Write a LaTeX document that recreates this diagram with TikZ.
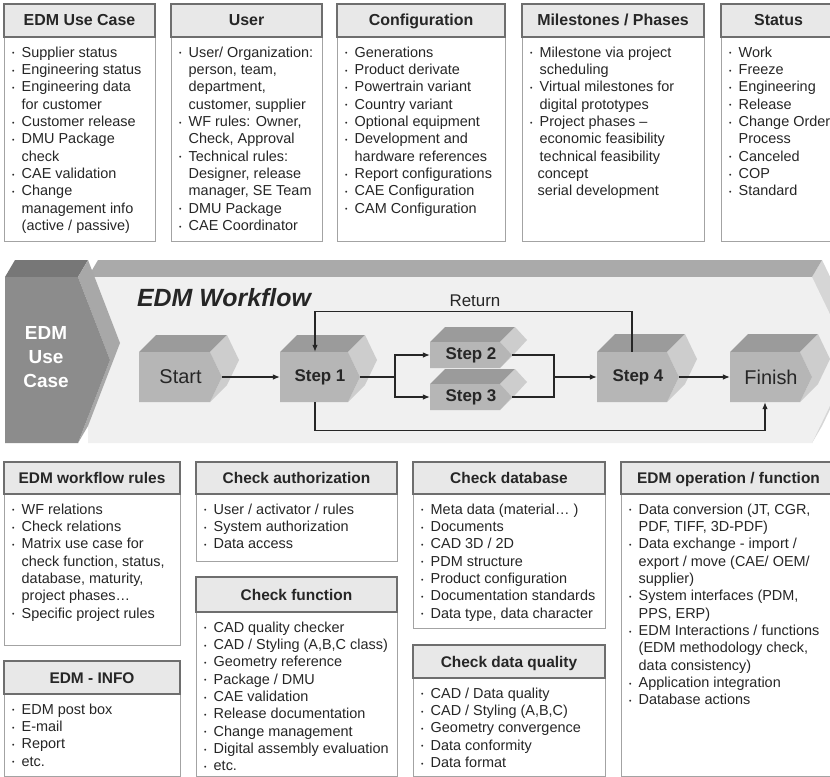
\documentclass[tikz,border=0pt]{standalone}
\usepackage{fontspec}
\setmainfont{Liberation Sans}
\usetikzlibrary{arrows.meta,calc}

\definecolor{hdrfill}{HTML}{E8E8E8}
\definecolor{hdrline}{HTML}{6E6E6E}
\definecolor{bodyline}{HTML}{A3A3A3}
\definecolor{txt}{HTML}{262626}
\definecolor{blkfront}{HTML}{B6B6B6}
\definecolor{blktop}{HTML}{9B9B9B}
\definecolor{blkside}{HTML}{CDCDCD}
\definecolor{bandfront}{HTML}{F0F0F0}
\definecolor{bandtop}{HTML}{AAAAAA}
\definecolor{bandside}{HTML}{D6D6D6}
\definecolor{ucfront}{HTML}{8C8C8C}
\definecolor{uctop}{HTML}{777777}
\definecolor{ucside}{HTML}{A8A8A8}

\tikzset{
  hdrbox/.style={draw=hdrline, fill=hdrfill, line width=1.3bp},
  bodybox/.style={draw=bodyline, fill=white, line width=1bp},
  hdrtext/.style={font=\bfseries\fontsize{16}{19}\selectfont, text=txt,
    inner sep=0pt, text height=14bp, text depth=3bp},
  itemtext/.style={anchor=north west, align=left, inner sep=0pt,
    font=\fontsize{14.5}{17.4}\selectfont, text=txt},
  plainstep/.style={font=\fontsize{20}{24}\selectfont, text=txt, inner sep=0pt},
  boldstep/.style={font=\bfseries\fontsize{17}{20}\selectfont, text=txt, inner sep=0pt},
  flow/.style={draw=black!85, line width=1.2bp, -{Latex[length=7bp,width=5.5bp]}},
  link/.style={draw=black!85, line width=1.2bp},
}

\newcommand{\bu}{\makebox[9.5bp][l]{\raisebox{1.5bp}{\fontsize{7}{7}\selectfont\textbullet}}}
\newcommand{\ind}{\hspace*{9.5bp}}

% name, x1, y1, x2, y2, header bottom, title, items
\newcommand{\infobox}[8]{%
  \draw[bodybox] (#2,#6) rectangle (#4,#5);
  \draw[hdrbox] (#2,#3) rectangle (#4,#6);
  \node[hdrtext] (#1-title) at ({(#2+#4)/2},{(#3+#6)/2}) {#7};
  \node[itemtext] (#1-items) at ({#2+8},{#6+9.5}) {#8};
}

% name, x, y, width, height, depth, style, label
\newcommand{\stepblock}[8]{%
  \fill[blktop] (#2,#3) -- ++(#6,-#6) -- ++(#4,0) -- ++(-#6,#6) -- cycle;
  \fill[blkside] ({#2+#4},#3) -- ++(#6,-#6) -- ++(12,{#5/2}) -- ++(-12,{#5/2})
    -- ++(-#6,#6) -- ++(12,{-#5/2}) -- cycle;
  \fill[blkfront] (#2,#3) -- ++(#4,0) -- ++(12,{#5/2}) -- ++(-12,{#5/2})
    -- ++(-#4,0) -- cycle;
  \node[#7, minimum width={#4+12}, minimum height=#5] (#1)
    at ({#2+(#4+12)/2},{#3+#5/2}) {#8};
}

\begin{document}
\begin{tikzpicture}[x=1bp,y=-1bp]
\useasboundingbox (0,0) rectangle (830,777);
\clip (0,0) rectangle (830,777);
\fill[white] (0,0) rectangle (830,777);

% top row
\infobox{usecase}{4}{4}{155}{241}{37}{EDM Use Case}{%
  \bu Supplier status\\
  \bu Engineering status\\
  \bu Engineering data\\
  \ind for customer\\
  \bu Customer release\\
  \bu DMU Package\\
  \ind check\\
  \bu CAE validation\\
  \bu Change\\
  \ind management info\\
  \ind (active / passive)}
\infobox{user}{171}{4}{322}{241}{37}{User}{%
  \bu User/ Organization:\\
  \ind person, team,\\
  \ind department,\\
  \ind customer, supplier\\
  \bu WF rules: Owner,\\
  \ind Check, Approval\\
  \bu Technical rules:\\
  \ind Designer, release\\
  \ind manager, SE Team\\
  \bu DMU Package\\
  \bu CAE Coordinator}
\infobox{config}{337}{4}{505}{241}{37}{Configuration}{%
  \bu Generations\\
  \bu Product derivate\\
  \bu Powertrain variant\\
  \bu Country variant\\
  \bu Optional equipment\\
  \bu Development and\\
  \ind hardware references\\
  \bu Report configurations\\
  \bu CAE Configuration\\
  \bu CAM Configuration}
\infobox{milestones}{522}{4}{704}{241}{37}{Milestones / Phases}{%
  \bu Milestone via project\\
  \ind scheduling\\
  \bu Virtual milestones for\\
  \ind digital prototypes\\
  \bu Project phases --\\
  \ind economic feasibility\\
  \ind technical feasibility\\
  \hspace*{7.5bp}concept\\
  \hspace*{7.5bp}serial development}
\infobox{status}{721}{4}{836}{241}{37}{Status}{%
  \bu Work\\
  \bu Freeze\\
  \bu Engineering\\
  \bu Release\\
  \bu Change Order\\
  \ind Process\\
  \bu Canceled\\
  \bu COP\\
  \bu Standard}

% workflow band
\fill[bandside] (812,277) -- (822,260) -- (862,343) -- (822,426) -- (812,443) -- cycle;
\fill[bandtop] (88,277) -- (98,260) -- (822,260) -- (812,277) -- cycle;
\fill[bandfront] (88,277) -- (812,277) -- (852,360) -- (812,443) -- (88,443) -- cycle;
\fill[uctop] (5,277) -- (15,260) -- (88,260) -- (78,277) -- cycle;
\fill[ucside] (78,277) -- (88,260) -- (120,343) -- (88,426) -- (78,443) -- (110,360) -- cycle;
\fill[ucfront] (5,277) -- (78,277) -- (110,360) -- (78,443) -- (5,443) -- cycle;
\node[align=center, text=white, font=\bfseries\fontsize{19}{24}\selectfont]
  (usecaselbl) at (46,357) {EDM\\Use\\Case};
\node[font=\bfseries\itshape\fontsize{25}{30}\selectfont, text=black!85]
  (wftitle) at (224,298) {EDM Workflow};

\stepblock{start}{139}{352}{71}{50}{17}{plainstep}{Start}
\stepblock{step1}{280}{352}{68}{50}{17}{boldstep}{Step 1}
\stepblock{step2}{430}{342}{70}{26}{15}{boldstep}{Step 2}
\stepblock{step3}{430}{384}{70}{26}{15}{boldstep}{Step 3}
\stepblock{step4}{597}{352}{70}{50}{18}{boldstep}{Step 4}
\stepblock{finish}{730}{352}{70}{50}{18}{plainstep}{Finish}

\draw[flow] (start.east) -- (step1.west);
\draw[link] (step1.east) -- ++(35,0) coordinate (split);
\draw[flow] (split) |- (step2.west);
\draw[flow] (split) |- (step3.west);
\draw[link] (step2.east) -- ++(42,0) coordinate (join) |- (step3.east);
\draw[flow] (join |- step4.west) -- (step4.west);
\draw[flow] (step4.east) -- (finish.west);
\draw[flow] ([xshift=-6bp]step4.north) -- ++(0,-40) -| ([xshift=-5bp]step1.north);
\node[font=\fontsize{17}{20}\selectfont, text=txt] (retlbl) at (475,301) {Return};
\draw[flow] ([xshift=-5bp]step1.south) -- ++(0,28) -| ([xshift=-6bp]finish.south);

% bottom rows
\begin{scope}[hdrtext/.append style={font=\bfseries\fontsize{15.5}{18}\selectfont}]
\infobox{wfrules}{4}{462}{180}{645}{494}{EDM workflow rules}{%
  \bu WF relations\\
  \bu Check relations\\
  \bu Matrix use case for\\
  \ind check function, status,\\
  \ind database, maturity,\\
  \ind project phases\dots\\
  \bu Specific project rules}
\infobox{edminfo}{4}{661}{180}{776}{694}{EDM - INFO}{%
  \bu EDM post box\\
  \bu E-mail\\
  \bu Report\\
  \bu etc.}
\infobox{checkauth}{196}{462}{397}{561}{494}{Check authorization}{%
  \bu User / activator / rules\\
  \bu System authorization\\
  \bu Data access}
\infobox{checkfunc}{196}{577}{397}{776}{612}{Check function}{%
  \bu CAD quality checker\\
  \bu CAD / Styling (A,B,C class)\\
  \bu Geometry reference\\
  \bu Package / DMU\\
  \bu CAE validation\\
  \bu Release documentation\\
  \bu Change management\\
  \bu Digital assembly evaluation\\
  \bu etc.}
\infobox{checkdb}{413}{462}{605}{628}{494}{Check database}{%
  \bu Meta data (material\dots\ )\\
  \bu Documents\\
  \bu CAD 3D / 2D\\
  \bu PDM structure\\
  \bu Product configuration\\
  \bu Documentation standards\\
  \bu Data type, data character}
\infobox{checkdq}{413}{645}{605}{776}{678}{Check data quality}{%
  \bu CAD / Data quality\\
  \bu CAD / Styling (A,B,C)\\
  \bu Geometry convergence\\
  \bu Data conformity\\
  \bu Data format}
\infobox{edmop}{621}{462}{836}{776}{494}{EDM operation / function}{%
  \bu Data conversion (JT, CGR,\\
  \ind PDF, TIFF, 3D-PDF)\\
  \bu Data exchange - import /\\
  \ind export / move (CAE/ OEM/\\
  \ind supplier)\\
  \bu System interfaces (PDM,\\
  \ind PPS, ERP)\\
  \bu EDM Interactions / functions\\
  \ind (EDM methodology check,\\
  \ind data consistency)\\
  \bu Application integration\\
  \bu Database actions}
\end{scope}
\end{tikzpicture}
\end{document}
